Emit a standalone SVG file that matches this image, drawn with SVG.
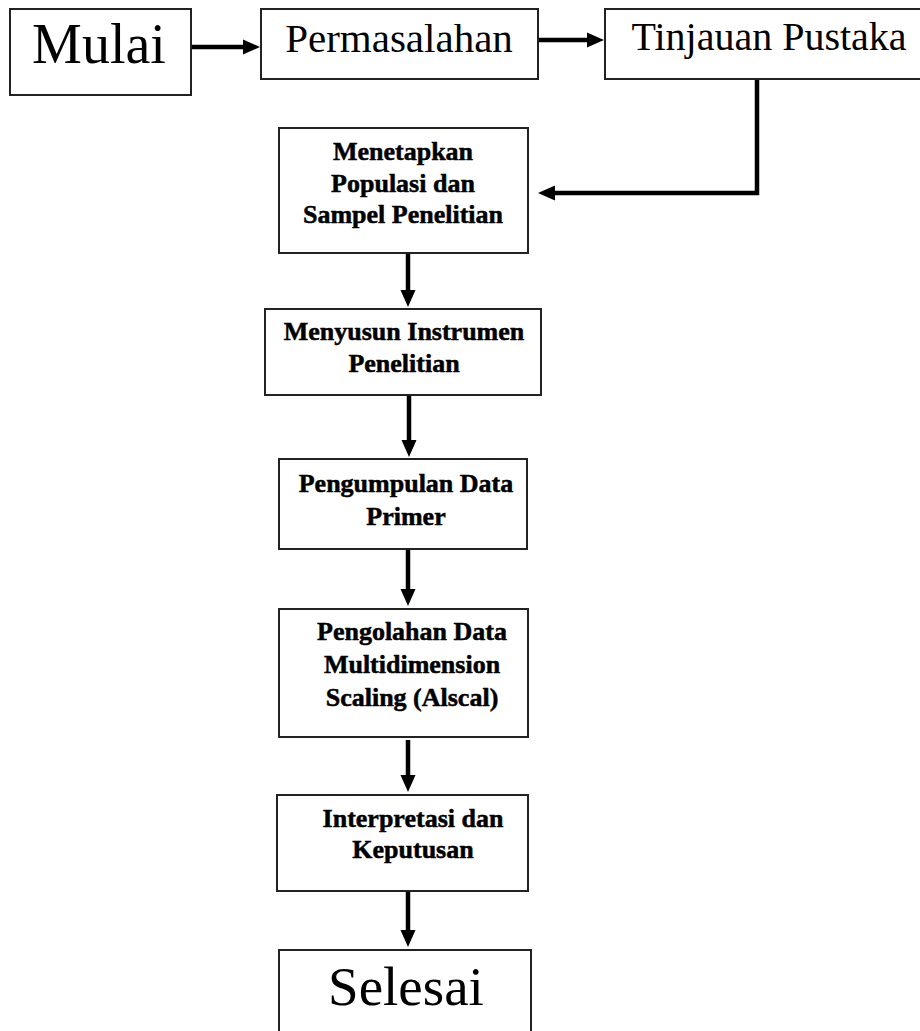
<svg xmlns="http://www.w3.org/2000/svg" width="920" height="1031" viewBox="0 0 920 1031">
<style>
.box{fill:#fff;stroke:#222;stroke-width:2}
.big{font-family:"Liberation Serif","Times New Roman",serif;fill:#000;text-anchor:middle}
.sm{font-family:"Liberation Serif","Times New Roman",serif;font-weight:bold;font-size:26px;fill:#000;stroke:#000;stroke-width:0.5;text-anchor:middle}
.conn{fill:none;stroke:#000;stroke-width:4.5}
</style>
<defs>
<marker id="ah" markerUnits="userSpaceOnUse" markerWidth="17" markerHeight="17" viewBox="0 0 17 17" refX="1" refY="8.5" orient="auto">
<path d="M0,1 L17,8.5 L0,16 z" fill="#000"/>
</marker>
</defs>
<rect width="920" height="1031" fill="#fff"/>
<g id="connectors">
<line class="conn" x1="191" y1="47" x2="244" y2="47" marker-end="url(#ah)"/>
<line class="conn" x1="538" y1="40" x2="588" y2="40" marker-end="url(#ah)"/>
<path class="conn" d="M757,79 V193 H554" marker-end="url(#ah)"/>
<line class="conn" x1="408" y1="253" x2="408" y2="291" marker-end="url(#ah)"/>
<line class="conn" x1="409" y1="395" x2="409" y2="441" marker-end="url(#ah)"/>
<line class="conn" x1="408" y1="549" x2="408" y2="590" marker-end="url(#ah)"/>
<line class="conn" x1="408" y1="740" x2="408" y2="776" marker-end="url(#ah)"/>
<line class="conn" x1="408" y1="891" x2="408" y2="931" marker-end="url(#ah)"/>
</g>
<g id="mulai">
<rect class="box" x="10" y="9" width="181" height="86"/>
<text class="big" x="99" y="63" font-size="56">Mulai</text>
</g>
<g id="permasalahan">
<rect class="box" x="261" y="9" width="277" height="70"/>
<text class="big" x="399" y="52" font-size="41">Permasalahan</text>
</g>
<g id="tinjauan">
<rect class="box" x="605" y="9" width="330" height="70"/>
<text class="big" x="769" y="50" font-size="40">Tinjauan Pustaka</text>
</g>
<g id="menetapkan">
<rect class="box" x="279" y="128" width="249" height="125"/>
<text class="sm" x="403" y="160">Menetapkan</text>
<text class="sm" x="403" y="191.5">Populasi dan</text>
<text class="sm" x="403" y="223">Sampel Penelitian</text>
</g>
<g id="menyusun">
<rect class="box" x="265" y="309" width="276" height="86"/>
<text class="sm" x="404" y="340">Menyusun Instrumen</text>
<text class="sm" x="404" y="372">Penelitian</text>
</g>
<g id="pengumpulan">
<rect class="box" x="279" y="459" width="248" height="90"/>
<text class="sm" x="406" y="492">Pengumpulan Data</text>
<text class="sm" x="406" y="525">Primer</text>
</g>
<g id="pengolahan">
<rect class="box" x="279" y="609" width="249" height="128"/>
<text class="sm" x="412" y="640">Pengolahan Data</text>
<text class="sm" x="412" y="673">Multidimension</text>
<text class="sm" x="412" y="706">Scaling (Alscal)</text>
</g>
<g id="interpretasi">
<rect class="box" x="277" y="795" width="251" height="96"/>
<text class="sm" x="413" y="827">Interpretasi dan</text>
<text class="sm" x="413" y="858">Keputusan</text>
</g>
<g id="selesai">
<rect class="box" x="279" y="950" width="252" height="100"/>
<text class="big" x="406" y="1005" font-size="55">Selesai</text>
</g>
</svg>
